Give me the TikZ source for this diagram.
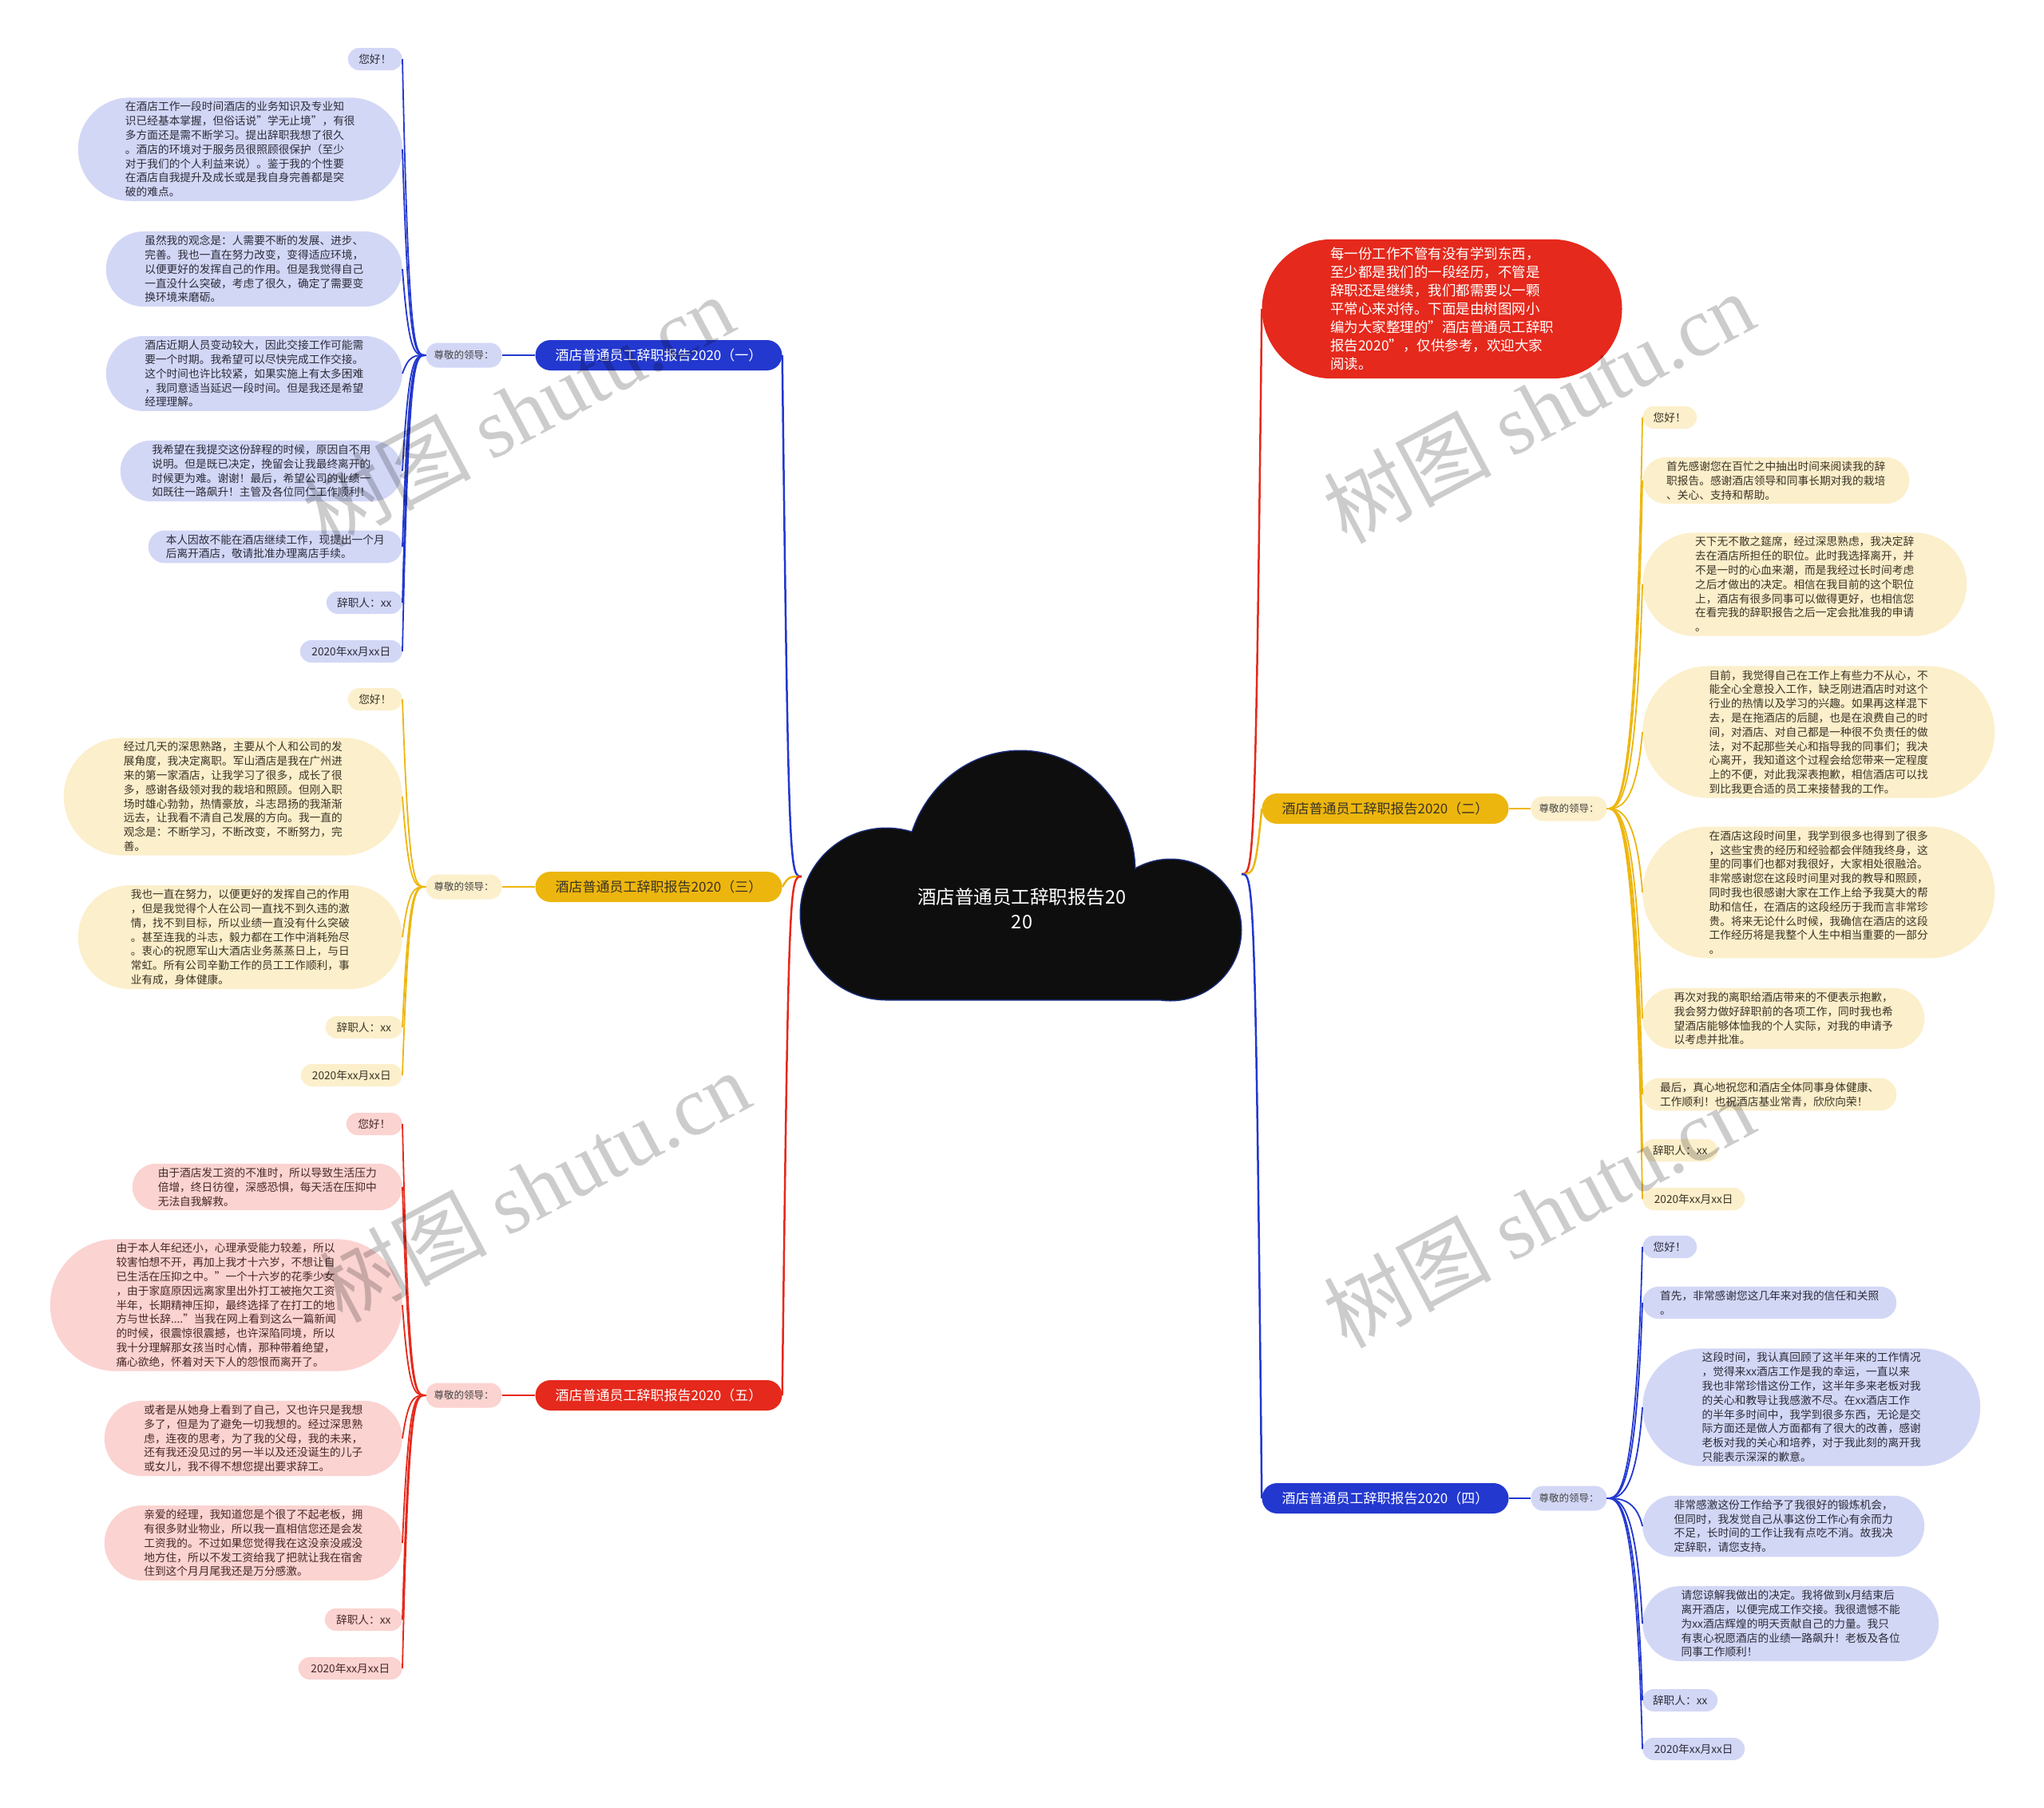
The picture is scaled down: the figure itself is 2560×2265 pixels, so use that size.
\documentclass[tikz,border=0pt]{standalone}
\usepackage{fontspec}
\setmainfont{Noto Sans CJK SC}
\newfontfamily\wmfont{Liberation Serif}
\usepackage{xcolor}
\usepackage{tikz}
\usetikzlibrary{shapes.misc, calc}

\definecolor{bluemain}{HTML}{2338CF}
\definecolor{yelmain}{HTML}{EDB60E}
\definecolor{redmain}{HTML}{E5291C}
\definecolor{lavfill}{HTML}{D3D7F6}
\definecolor{creamfill}{HTML}{FCEFCB}
\definecolor{pinkfill}{HTML}{FBD3D0}
\definecolor{bluetext}{HTML}{2C2C3A}
\definecolor{yeltext}{HTML}{3A3326}
\definecolor{redtext}{HTML}{472828}
\definecolor{greytext}{HTML}{444444}
\definecolor{cloudfill}{HTML}{0E0E0E}
\definecolor{cloudline}{HTML}{1B2D7A}

\begin{document}
\begin{tikzpicture}[
    x=1pt, y=-1pt,
    leaf/.style={rounded rectangle, inner xsep=1pt, inner ysep=5pt, minimum height=28pt, align=left, font=\fontsize{13.7}{17.8}\selectfont},
    bleaf/.style={leaf, fill=lavfill, text=bluetext},
    yleaf/.style={leaf, fill=creamfill, text=yeltext},
    rleaf/.style={leaf, fill=pinkfill, text=redtext},
    branch/.style={rectangle, rounded corners=19pt, minimum width=309pt, minimum height=38pt, inner sep=0pt, font=\fontsize{17}{20}\selectfont},
    greet/.style={rectangle, rounded corners=15pt, minimum width=95pt, minimum height=31pt, inner sep=0pt, text=greytext, font=\fontsize{12.5}{14}\selectfont},
    rootnode/.style={align=center, text=white, font=\fontsize{23.5}{31.5}\selectfont},
    intro/.style={rounded rectangle, inner xsep=1pt, inner ysep=10pt, minimum width=453pt, align=left, fill=redmain, text=white, font=\fontsize{17.5}{23}\selectfont},
    link/.style={line width=1.8pt},
    mainlink/.style={line width=2.5pt},
    wmark/.style={rotate=28, text=black, text opacity=0.2, font=\fontsize{105}{110}\selectfont}
]

    % --- CANVAS ---
    \path[fill=white] (0,0) rectangle (2560,2265);

    % --- ROOT: CLOUD ---
    \draw[line width=3pt, cloudline] (1278,1092) ellipse [x radius=143pt, y radius=151pt]
        (1110,1145) circle [radius=107pt] (1466,1165) circle [radius=88pt]
        (1110,1100) rectangle (1466,1252);
    \fill[cloudfill] (1278,1092) ellipse [x radius=143pt, y radius=151pt]
        (1110,1145) circle [radius=107pt] (1466,1165) circle [radius=88pt]
        (1110,1100) rectangle (1466,1252);
    \node[rootnode] (root) at (1280,1138) {酒店普通员工辞职报告20\\20};
    \coordinate (rootL) at (1004,1098);
    \coordinate (rootR) at (1555,1095);

    % --- LEFT 1: BLUE ---
    \node[branch, fill=bluemain, text=white] (b1) at (825,445) {酒店普通员工辞职报告2020（一）};
    \node[greet, fill=lavfill] (s1) at (581,445) {尊敬的领导：};
    \node[bleaf, anchor=east, minimum width=70pt] (l1a) at (504,74) {您好！};
    \node[bleaf, anchor=east, minimum width=408pt] (l1b) at (504,187) {在酒店工作一段时间酒店的业务知识及专业知\\
        识已经基本掌握，但俗话说"学无止境"，有很\\
        多方面还是需不断学习。提出辞职我想了很久\\
        。酒店的环境对于服务员很照顾很保护（至少\\
        对于我们的个人利益来说）。鉴于我的个性要\\
        在酒店自我提升及成长或是我自身完善都是突\\
        破的难点。};
    \node[bleaf, anchor=east, minimum width=373pt] (l1c) at (504,337) {虽然我的观念是：人需要不断的发展、进步、\\
        完善。我也一直在努力改变，变得适应环境，\\
        以便更好的发挥自己的作用。但是我觉得自己\\
        一直没什么突破，考虑了很久，确定了需要变\\
        换环境来磨砺。};
    \node[bleaf, anchor=east, minimum width=373pt] (l1d) at (504,468) {酒店近期人员变动较大，因此交接工作可能需\\
        要一个时期。我希望可以尽快完成工作交接。\\
        这个时间也许比较紧，如果实施上有太多困难\\
        ，我同意适当延迟一段时间。但是我还是希望\\
        经理理解。};
    \node[bleaf, anchor=east, minimum width=355pt] (l1e) at (504,590) {我希望在我提交这份辞程的时候，原因自不用\\
        说明。但是既已决定，挽留会让我最终离开的\\
        时候更为难。谢谢！最后，希望公司的业绩一\\
        如既往一路飙升！主管及各位同仁工作顺利！};
    \node[bleaf, anchor=east, minimum width=320pt] (l1f) at (504,685) {本人因故不能在酒店继续工作，现提出一个月\\
        后离开酒店，敬请批准办理离店手续。};
    \node[bleaf, anchor=east, minimum width=97pt] (l1g) at (504,755) {辞职人：xx};
    \node[bleaf, anchor=east, minimum width=130pt] (l1h) at (504,816) {2020年xx月xx日};

    % --- LEFT 2: YELLOW ---
    \node[branch, fill=yelmain, text=yeltext] (b3) at (825,1111) {酒店普通员工辞职报告2020（三）};
    \node[greet, fill=creamfill] (s3) at (581,1111) {尊敬的领导：};
    \node[yleaf, anchor=east, minimum width=70pt] (l3a) at (504,876) {您好！};
    \node[yleaf, anchor=east, minimum width=426pt] (l3b) at (504,998) {经过几天的深思熟路，主要从个人和公司的发\\
        展角度，我决定离职。军山酒店是我在广州进\\
        来的第一家酒店，让我学习了很多，成长了很\\
        多，感谢各级领对我的栽培和照顾。但刚入职\\
        场时雄心勃勃，热情豪放，斗志昂扬的我渐渐\\
        远去，让我看不清自己发展的方向。我一直的\\
        观念是：不断学习，不断改变，不断努力，完\\
        善。};
    \node[yleaf, anchor=east, minimum width=408pt] (l3c) at (504,1174) {我也一直在努力，以便更好的发挥自己的作用\\
        ，但是我觉得个人在公司一直找不到久违的激\\
        情，找不到目标，所以业绩一直没有什么突破\\
        。甚至连我的斗志，毅力都在工作中消耗殆尽\\
        。衷心的祝愿军山大酒店业务蒸蒸日上，与日\\
        常虹。所有公司辛勤工作的员工工作顺利，事\\
        业有成，身体健康。};
    \node[yleaf, anchor=east, minimum width=98pt] (l3d) at (504,1287) {辞职人：xx};
    \node[yleaf, anchor=east, minimum width=129pt] (l3e) at (504,1347) {2020年xx月xx日};

    % --- LEFT 3: RED ---
    \node[branch, fill=redmain, text=white] (b5) at (825,1748) {酒店普通员工辞职报告2020（五）};
    \node[greet, fill=pinkfill] (s5) at (581,1748) {尊敬的领导：};
    \node[rleaf, anchor=east, minimum width=72pt] (l5a) at (504,1408) {您好！};
    \node[rleaf, anchor=east, minimum width=340pt] (l5b) at (504,1487) {由于酒店发工资的不准时，所以导致生活压力\\
        倍增，终日彷徨，深感恐惧，每天活在压抑中\\
        无法自我解救。};
    \node[rleaf, anchor=east, minimum width=443pt] (l5c) at (504,1635) {由于本人年纪还小，心理承受能力较差，所以\\
        较害怕想不开，再加上我才十六岁，不想让自\\
        已生活在压抑之中。"一个十六岁的花季少女\\
        ，由于家庭原因远离家里出外打工被拖欠工资\\
        半年，长期精神压抑，最终选择了在打工的地\\
        方与世长辞...."当我在网上看到这么一篇新闻\\
        的时候，很震惊很震撼，也许深陷同境，所以\\
        我十分理解那女孩当时心情，那种带着绝望，\\
        痛心欲绝，怀着对天下人的怨恨而离开了。};
    \node[rleaf, anchor=east, minimum width=375pt] (l5d) at (504,1802) {或者是从她身上看到了自己，又也许只是我想\\
        多了，但是为了避免一切我想的。经过深思熟\\
        虑，连夜的思考，为了我的父母，我的未来，\\
        还有我还没见过的另一半以及还没诞生的儿子\\
        或女儿，我不得不想您提出要求辞工。};
    \node[rleaf, anchor=east, minimum width=375pt] (l5e) at (504,1933) {亲爱的经理，我知道您是个很了不起老板，拥\\
        有很多财业物业，所以我一直相信您还是会发\\
        工资我的。不过如果您觉得我在这没亲没戚没\\
        地方住，所以不发工资给我了把就让我在宿舍\\
        住到这个月月尾我还是万分感激。};
    \node[rleaf, anchor=east, minimum width=99pt] (l5f) at (504,2029) {辞职人：xx};
    \node[rleaf, anchor=east, minimum width=132pt] (l5g) at (504,2090) {2020年xx月xx日};

    % --- RIGHT 1: INTRO ---
    \node[intro] (intro) at (1806,387) {每一份工作不管有没有学到东西，\\
        至少都是我们的一段经历，不管是\\
        辞职还是继续，我们都需要以一颗\\
        平常心来对待。下面是由树图网小\\
        编为大家整理的"酒店普通员工辞职\\
        报告2020"，仅供参考，欢迎大家\\
        阅读。};

    % --- RIGHT 2: YELLOW ---
    \node[branch, fill=yelmain, text=yeltext] (b2) at (1735,1013) {酒店普通员工辞职报告2020（二）};
    \node[greet, fill=creamfill] (s2) at (1965,1013) {尊敬的领导：};
    \node[yleaf, anchor=west, minimum width=70pt] (l2a) at (2057,523) {您好！};
    \node[yleaf, anchor=west, minimum width=336pt] (l2b) at (2057,602) {首先感谢您在百忙之中抽出时间来阅读我的辞\\
        职报告。感谢酒店领导和同事长期对我的栽培\\
        、关心、支持和帮助。};
    \node[yleaf, anchor=west, minimum width=408pt] (l2c) at (2057,732) {天下无不散之筵席，经过深思熟虑，我决定辞\\
        去在酒店所担任的职位。此时我选择离开，并\\
        不是一时的心血来潮，而是我经过长时间考虑\\
        之后才做出的决定。相信在我目前的这个职位\\
        上，酒店有很多同事可以做得更好，也相信您\\
        在看完我的辞职报告之后一定会批准我的申请\\
        。};
    \node[yleaf, anchor=west, minimum width=443pt] (l2d) at (2057,917) {目前，我觉得自己在工作上有些力不从心，不\\
        能全心全意投入工作，缺乏刚进酒店时对这个\\
        行业的热情以及学习的兴趣。如果再这样混下\\
        去，是在拖酒店的后腿，也是在浪费自己的时\\
        间，对酒店、对自己都是一种很不负责任的做\\
        法，对不起那些关心和指导我的同事们；我决\\
        心离开，我知道这个过程会给您带来一定程度\\
        上的不便，对此我深表抱歉，相信酒店可以找\\
        到比我更合适的员工来接替我的工作。};
    \node[yleaf, anchor=west, minimum width=443pt] (l2e) at (2057,1118) {在酒店这段时间里，我学到很多也得到了很多\\
        ，这些宝贵的经历和经验都会伴随我终身，这\\
        里的同事们也都对我很好，大家相处很融洽。\\
        非常感谢您在这段时间里对我的教导和照顾，\\
        同时我也很感谢大家在工作上给予我莫大的帮\\
        助和信任，在酒店的这段经历于我而言非常珍\\
        贵。将来无论什么时候，我确信在酒店的这段\\
        工作经历将是我整个人生中相当重要的一部分\\
        。};
    \node[yleaf, anchor=west, minimum width=355pt] (l2f) at (2057,1276) {再次对我的离职给酒店带来的不便表示抱歉，\\
        我会努力做好辞职前的各项工作，同时我也希\\
        望酒店能够体恤我的个人实际，对我的申请予\\
        以考虑并批准。};
    \node[yleaf, anchor=west, minimum width=320pt] (l2g) at (2057,1371) {最后，真心地祝您和酒店全体同事身体健康、\\
        工作顺利！也祝酒店基业常青，欣欣向荣！};
    \node[yleaf, anchor=west, minimum width=96pt] (l2h) at (2057,1441) {辞职人：xx};
    \node[yleaf, anchor=west, minimum width=130pt] (l2i) at (2057,1502) {2020年xx月xx日};

    % --- RIGHT 3: BLUE ---
    \node[branch, fill=bluemain, text=white] (b4) at (1735,1877) {酒店普通员工辞职报告2020（四）};
    \node[greet, fill=lavfill] (s4) at (1965,1877) {尊敬的领导：};
    \node[bleaf, anchor=west, minimum width=70pt] (l4a) at (2057,1562) {您好！};
    \node[bleaf, anchor=west, minimum width=320pt] (l4b) at (2057,1632) {首先，非常感谢您这几年来对我的信任和关照\\
        。};
    \node[bleaf, anchor=west, minimum width=425pt] (l4c) at (2057,1763) {这段时间，我认真回顾了这半年来的工作情况\\
        ，觉得来xx酒店工作是我的幸运，一直以来\\
        我也非常珍惜这份工作，这半年多来老板对我\\
        的关心和教导让我感激不尽。在xx酒店工作\\
        的半年多时间中，我学到很多东西，无论是交\\
        际方面还是做人方面都有了很大的改善，感谢\\
        老板对我的关心和培养，对于我此刻的离开我\\
        只能表示深深的歉意。};
    \node[bleaf, anchor=west, minimum width=355pt] (l4d) at (2057,1912) {非常感激这份工作给予了我很好的锻炼机会，\\
        但同时，我发觉自己从事这份工作心有余而力\\
        不足，长时间的工作让我有点吃不消。故我决\\
        定辞职，请您支持。};
    \node[bleaf, anchor=west, minimum width=373pt] (l4e) at (2057,2034) {请您谅解我做出的决定。我将做到x月结束后\\
        离开酒店，以便完成工作交接。我很遗憾不能\\
        为xx酒店辉煌的明天贡献自己的力量。我只\\
        有衷心祝愿酒店的业绩一路飙升！老板及各位\\
        同事工作顺利！};
    \node[bleaf, anchor=west, minimum width=96pt] (l4f) at (2057,2130) {辞职人：xx};
    \node[bleaf, anchor=west, minimum width=130pt] (l4g) at (2057,2191) {2020年xx月xx日};

    % --- CONNECTORS: root to branches ---
    \draw[mainlink, bluemain] (rootL) .. controls +(-15,0) and ($(b1.east |- rootL)+(8,0)$) .. (b1.east);
    \draw[mainlink, yelmain] (rootL) .. controls +(-15,0) and ($(b3.east |- rootL)+(8,0)$) .. (b3.east);
    \draw[mainlink, redmain] (rootL) .. controls +(-15,0) and ($(b5.east |- rootL)+(8,0)$) .. (b5.east);
    \draw[mainlink, redmain] (rootR) .. controls +(15,0) and ($(intro.west |- rootR)+(-8,0)$) .. (intro.west);
    \draw[mainlink, yelmain] (rootR) .. controls +(15,0) and ($(b2.west |- rootR)+(-8,0)$) .. (b2.west);
    \draw[mainlink, bluemain] (rootR) .. controls +(15,0) and ($(b4.west |- rootR)+(-8,0)$) .. (b4.west);

    % --- CONNECTORS: branches to greetings ---
    \draw[link, bluemain] (b1.west) -- (s1.east);
    \draw[link, yelmain] (b3.west) -- (s3.east);
    \draw[link, redmain] (b5.west) -- (s5.east);
    \draw[link, yelmain] (b2.east) -- (s2.west);
    \draw[link, bluemain] (b4.east) -- (s4.west);

    % --- CONNECTORS: greetings to leaves ---
    \foreach \n in {a,...,h}
        \draw[link, bluemain] (s1.west) .. controls +(-14,0) and ($(l1\n.east |- s1.west)+(8,0)$) .. (l1\n.east);
    \foreach \n in {a,...,e}
        \draw[link, yelmain] (s3.west) .. controls +(-14,0) and ($(l3\n.east |- s3.west)+(8,0)$) .. (l3\n.east);
    \foreach \n in {a,...,g}
        \draw[link, redmain] (s5.west) .. controls +(-14,0) and ($(l5\n.east |- s5.west)+(8,0)$) .. (l5\n.east);
    \foreach \n in {a,...,i}
        \draw[link, yelmain] (s2.east) .. controls +(14,0) and ($(l2\n.west |- s2.east)+(-8,0)$) .. (l2\n.west);
    \foreach \n in {a,...,g}
        \draw[link, bluemain] (s4.east) .. controls +(14,0) and ($(l4\n.west |- s4.east)+(-8,0)$) .. (l4\n.west);

    % --- WATERMARKS ---
    \node[wmark] (wm1) at (649,514) {树图 {\wmfont shutu.cn}};
    \node[wmark] (wm2) at (669,1486) {树图 {\wmfont shutu.cn}};
    \node[wmark] (wm3) at (1927,510) {树图 {\wmfont shutu.cn}};
    \node[wmark] (wm4) at (1927,1518) {树图 {\wmfont shutu.cn}};

\end{tikzpicture}
\end{document}
